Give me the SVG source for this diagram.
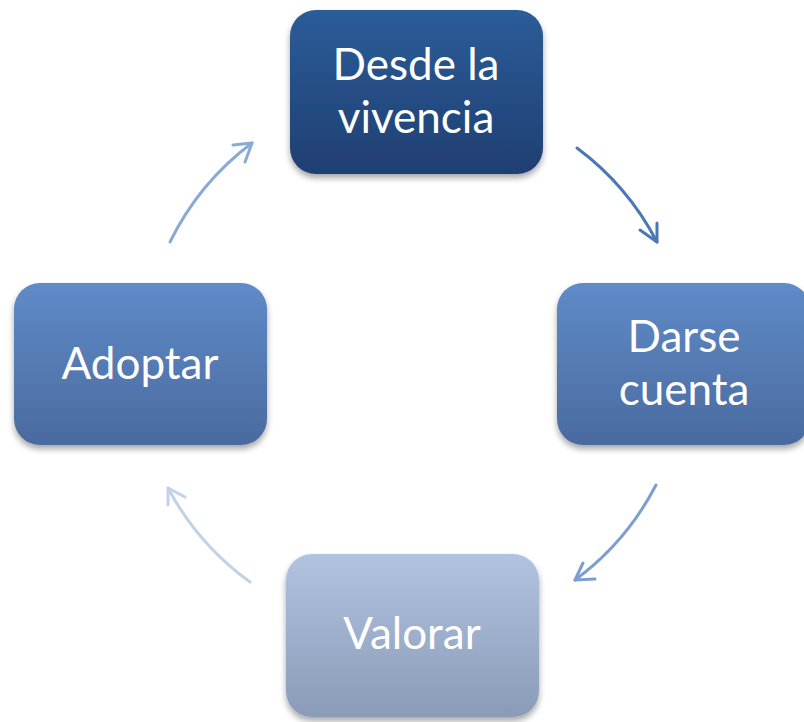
<svg xmlns="http://www.w3.org/2000/svg" width="804" height="722" viewBox="0 0 804 722">
<defs>
<linearGradient id="gDark" x1="0" y1="0" x2="0" y2="1"><stop offset="0" stop-color="#2c5c98"/><stop offset="1" stop-color="#1f3f72"/></linearGradient>
<linearGradient id="gMid" x1="0" y1="0" x2="0" y2="1"><stop offset="0" stop-color="#5f8bc8"/><stop offset="1" stop-color="#4a6a9f"/></linearGradient>
<linearGradient id="gLight" x1="0" y1="0" x2="0" y2="1"><stop offset="0" stop-color="#b1c3e1"/><stop offset="1" stop-color="#8a9bb7"/></linearGradient>
<filter id="sh" x="-10%" y="-10%" width="120%" height="130%"><feDropShadow dx="0" dy="4" stdDeviation="3" flood-color="#000" flood-opacity="0.35"/></filter>
</defs>
<style>
.box{filter:url(#sh)}
.t{font-family:Lato,"Open Sans","Liberation Sans",sans-serif;font-size:44px;fill:#fff;text-anchor:middle}
.c{fill:none;stroke-width:3;stroke-linecap:round;stroke-linejoin:round}
.a1{stroke:#4a78b6}.a2{stroke:#7c9ed1}.a3{stroke:#c3d1e8}.a4{stroke:#8aaad6}
</style>
<rect width="804" height="722" fill="#fff"/>
<g id="connectors">
<path class="c a1" d="M577 148 A275 275 0 0 1 657 242"/>
<path class="c a1" d="M640 230 L657 242 L657 223"/>
<path class="c a2" d="M656 485 A275 275 0 0 1 575 580"/>
<path class="c a2" d="M583 563 L575 580 L595 579"/>
<path class="c a3" d="M250 582 A275 275 0 0 1 168 488"/>
<path class="c a3" d="M168 505 L168 488 L185 497"/>
<path class="c a4" d="M170 242 A275 275 0 0 1 252 143"/>
<path class="c a4" d="M233 145 L252 143 L245 162"/>
</g>
<g id="n-desde">
<rect class="box" x="290" y="10" width="253" height="164" rx="26" fill="url(#gDark)"/>
<text class="t" x="416" y="80">Desde la</text>
<text class="t" x="416" y="133">vivencia</text>
</g>
<g id="n-darse">
<rect class="box" x="557" y="283" width="253" height="162" rx="26" fill="url(#gMid)"/>
<text class="t" x="684" y="352">Darse</text>
<text class="t" x="684" y="405">cuenta</text>
</g>
<g id="n-valorar">
<rect class="box" x="286" y="554" width="253" height="163" rx="26" fill="url(#gLight)"/>
<text class="t" x="412" y="649">Valorar</text>
</g>
<g id="n-adoptar">
<rect class="box" x="14" y="283" width="253" height="162" rx="26" fill="url(#gMid)"/>
<text class="t" x="140" y="379">Adoptar</text>
</g>
</svg>
